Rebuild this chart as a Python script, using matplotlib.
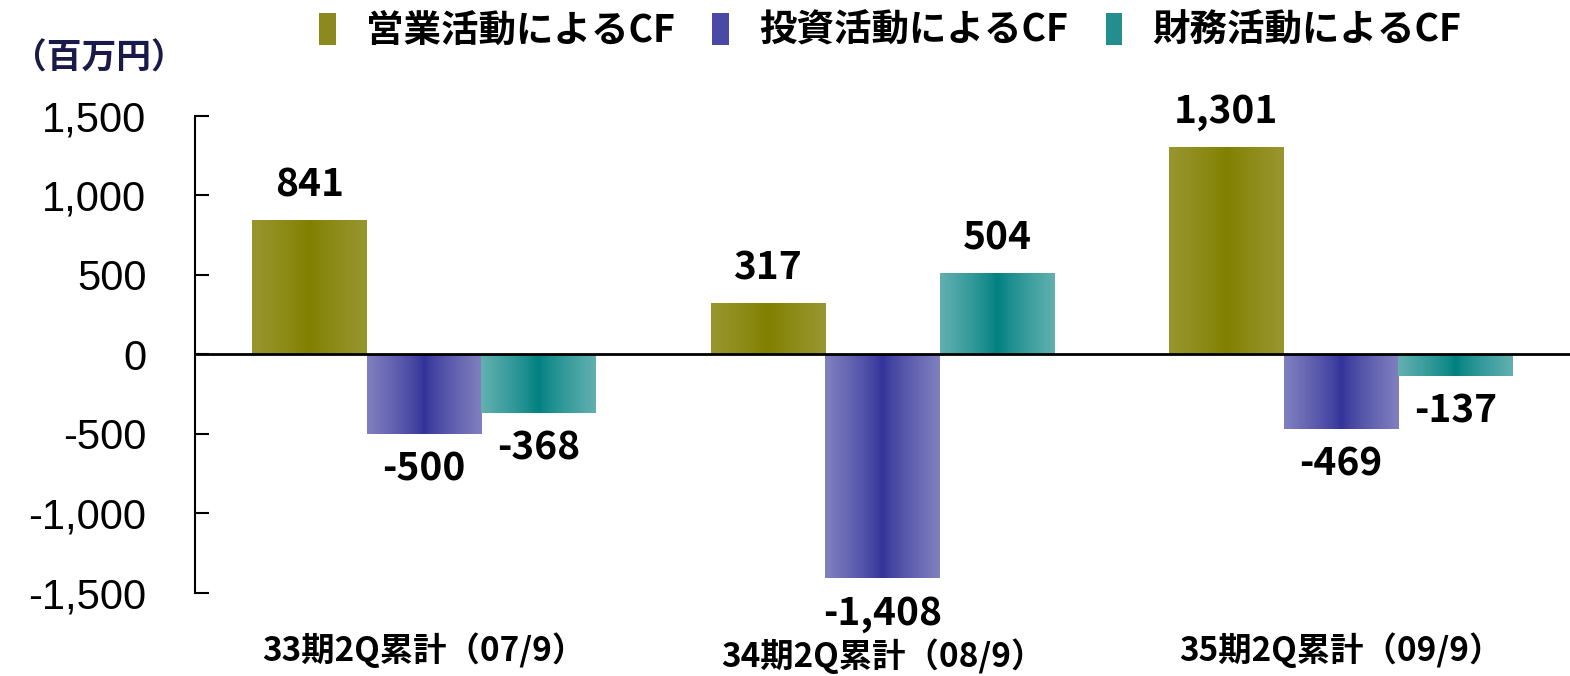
import numpy as np
import matplotlib
matplotlib.use("Agg")
import matplotlib.pyplot as plt
import matplotlib.transforms as mtransforms
from matplotlib.colors import LinearSegmentedColormap
from matplotlib.patches import Patch
from matplotlib.ticker import FuncFormatter

plt.rcParams['axes.unicode_minus'] = False

# Données (百万円)
categories = ["33期2Q累計（07/9）", "34期2Q累計（08/9）", "35期2Q累計（09/9）"]
series = ["営業活動によるCF", "投資活動によるCF", "財務活動によるCF"]
eigyo = [841, 317, 1301]
toushi = [-500, -1408, -469]
zaimu = [-368, 504, -137]
values = [eigyo, toushi, zaimu]
yticks = [-1500, -1000, -500, 0, 500, 1000, 1500]

# Couleurs : bord clair, centre foncé
edge_colors = ["#98962E", "#8080C0", "#62B0B0"]
center_colors = ["#808000", "#333399", "#008080"]
legend_colors = ["#8C8A1E", "#4A4AA6", "#238E8E"]

jp = "Noto Sans CJK JP"

fig = plt.figure(figsize=(15.7, 6.76), dpi=100)
ax = fig.add_axes([0.1242, 0.1228, 0.8758, 0.7056])

x = np.arange(len(categories))
w = 0.25
grad = np.abs(np.linspace(-1, 1, 256))[None, :] ** 0.8

for i, vals in enumerate(values):
    cmap = LinearSegmentedColormap.from_list(f"g{i}", [center_colors[i], edge_colors[i]])
    bars = ax.bar(x + (i - 1) * w, vals, w, color="none", edgecolor="none")
    for b, v in zip(bars, vals):
        x0, y0 = b.get_x(), b.get_y()
        ax.imshow(grad, extent=[x0, x0 + b.get_width(), y0, y0 + b.get_height()],
                  cmap=cmap, aspect="auto", interpolation="bilinear", zorder=2)
        ax.annotate(f"{v:,}", (x0 + b.get_width() / 2, v),
                    xytext=(0, 12 if v > 0 else -11), textcoords="offset points",
                    ha="center", va="bottom" if v > 0 else "top",
                    fontsize=28, fontweight="bold", family=jp)

ax.set_xlim(-0.5, 2.5)
ax.set_ylim(-1500, 1500)
ax.axhline(0, color="black", lw=2, zorder=3)

for s in ["top", "right", "bottom"]:
    ax.spines[s].set_visible(False)
ax.spines["left"].set_linewidth(1.5)

ax.set_yticks(yticks)
ax.yaxis.set_major_formatter(FuncFormatter(lambda v, p: f"{v:,.0f}"))
ax.tick_params(axis="y", direction="in", length=10, width=1.5, pad=35, labelsize=30)
for t in ax.get_yticklabels():
    t.set_family("Liberation Sans")

ax.set_xticks(x, categories)
ax.tick_params(axis="x", length=0, pad=28)
for k, t in enumerate(ax.get_xticklabels()):
    t.set_family(jp)
    t.set_fontweight("bold")
    t.set_fontsize(24)
    if k == 1:
        # le libellé du milieu est un peu plus bas
        t.set_transform(t.get_transform() + mtransforms.ScaledTranslation(0, -6 / 100, fig.dpi_scale_trans))

fig.text(12 / 1570, 1 - 58 / 676, "（百万円）", fontsize=25, fontweight="bold",
         color="#1A1A4A", va="center", family=jp)

handles = [Patch(facecolor=c) for c in legend_colors]
fig.legend(handles, series, loc="center", bbox_to_anchor=(0.567, 0.955), ncol=3,
           frameon=False, prop=dict(family=jp, weight="bold", size=27),
           handlelength=0.45, handleheight=0.9, handletextpad=0.8, columnspacing=1.0)

fig.savefig("out.png", dpi=100)
